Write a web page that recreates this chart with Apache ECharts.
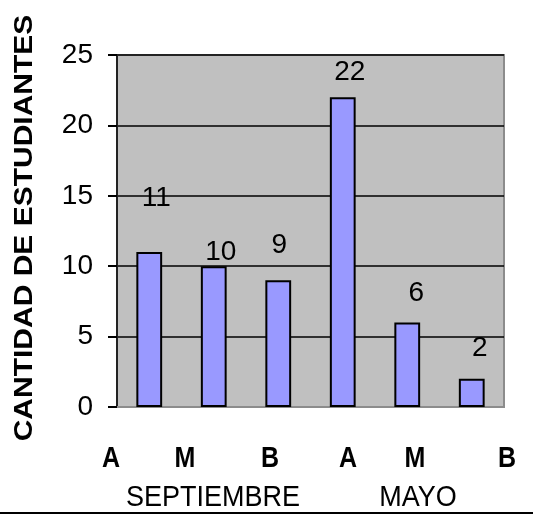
<!DOCTYPE html>
<html>
<head>
<meta charset="utf-8">
<script src="https://cdn.jsdelivr.net/npm/echarts@6/dist/echarts.min.js"></script>
<style>
	html, body {margin: 0; padding: 0; background: #fff;}
	#main {width: 533px; height: 516px;}
</style>
</head>
<body>
<div id="main"></div>
<script>
// datos
const months = ['SEPTIEMBRE', 'MAYO'];
const levels = ['A', 'M', 'B'];
const values = [11, 10, 9, 22, 6, 2];
const yTicks = [0, 5, 10, 15, 20, 25];
const yTitle = 'CANTIDAD DE ESTUDIANTES';

// una categoria por barra (mes + nivel)
let categories = [];
months.forEach(m => {
	levels.forEach(l => {
		categories.push(m + ' ' + l);
	})
});

const font = '"Liberation Sans", Arial, sans-serif';

// desplazamiento de cada etiqueta respecto a la parte alta de la barra
const labelShift = [[7, -40], [7, 0], [1, -21], [7, -11], [9, -15], [8, -17]];
// posiciones de los textos de nivel y de mes bajo el eje
const levelX = [111, 185, 270, 348, 415, 507];
const monthX = [213, 418];

const chart = echarts.init(document.getElementById('main'), null, {renderer: 'canvas'});

let graphic = [];
categories.forEach((c, i) => {
	graphic.push({
		type: 'text',
		x: levelX[i],
		y: 459,
		scaleY: 1.2,
		style: {
			text: levels[i % levels.length],
			font: 'bold 25px ' + font,
			fill: '#000',
			align: 'center',
			verticalAlign: 'middle'
		}
	})
});
months.forEach((m, i) => {
	graphic.push({
		type: 'text',
		x: monthX[i],
		y: 498,
		scaleY: 1.1,
		style: {
			text: m,
			font: '27px ' + font,
			fill: '#000',
			align: 'center',
			verticalAlign: 'middle'
		}
	})
});
graphic.push({
	type: 'text',
	x: 25,
	y: 228,
	rotation: Math.PI / 2,
	scaleX: 1.2,
	style: {
		text: yTitle,
		font: 'bold 25px ' + font,
		fill: '#000',
		align: 'center',
		verticalAlign: 'middle'
	}
});
graphic.push({
	type: 'line',
	shape: {x1: 0, y1: 513, x2: 533, y2: 513},
	style: {stroke: '#000', lineWidth: 2}
});

const option = {
	animation: false,
	textStyle: {fontFamily: font},
	grid: {
		left: 117,
		right: 29,
		top: 55,
		bottom: 109,
		show: true,
		backgroundColor: '#c0c0c0',
		borderColor: '#8c8c8c',
		borderWidth: 2
	},
	xAxis: {
		type: 'category',
		data: categories,
		axisLine: {lineStyle: {color: '#8c8c8c', width: 2}},
		axisTick: {show: false},
		axisLabel: {show: false}
	},
	yAxis: {
		type: 'value',
		min: yTicks[0],
		max: yTicks[yTicks.length - 1],
		interval: yTicks[1] - yTicks[0],
		axisLine: {show: true, lineStyle: {color: '#222', width: 2}},
		axisTick: {show: true, length: 9, lineStyle: {color: '#000', width: 2}},
		axisLabel: {
			color: '#000',
			fontSize: 28,
			margin: 24,
			fontFamily: font
		},
		splitLine: {lineStyle: {color: '#000', width: 1.5}}
	},
	series: [{
		type: 'bar',
		barWidth: '40%',
		data: values.map((v, i) => ({
			value: v,
			label: {offset: labelShift[i]}
		})),
		itemStyle: {
			color: '#9999ff',
			borderColor: '#000',
			borderWidth: 2
		},
		label: {
			show: true,
			position: 'top',
			distance: 0,
			color: '#000',
			fontSize: 28,
			fontFamily: font
		}
	}],
	graphic: graphic
};
chart.setOption(option);
</script>
</body>
</html>
